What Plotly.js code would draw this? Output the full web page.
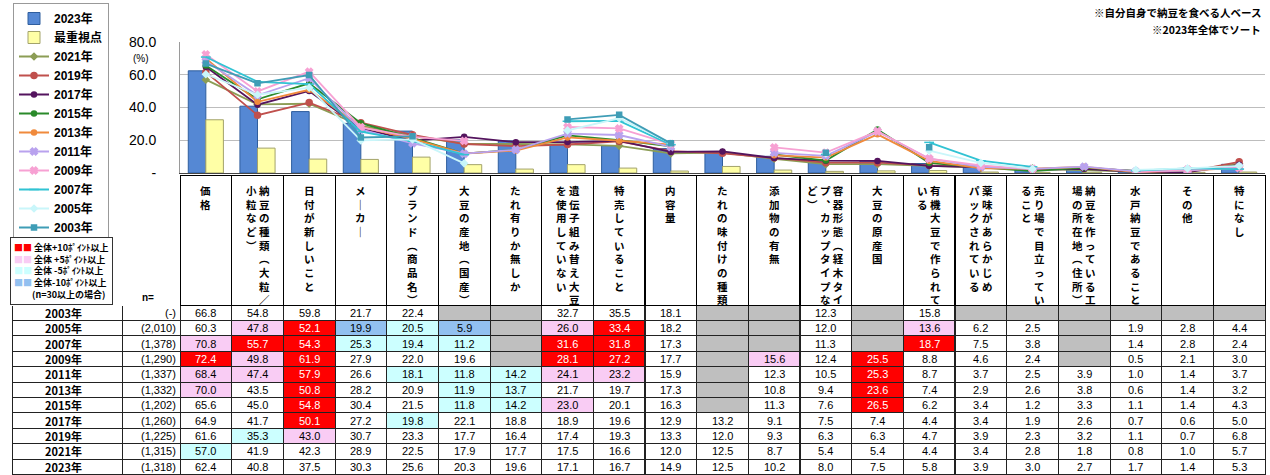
<!DOCTYPE html>
<html><head><meta charset="utf-8">
<script src="https://cdn.plot.ly/plotly-3.0.1.min.js"></script>
<style>html,body{margin:0;padding:0;background:#fff}#chart{width:1270px;height:475px}</style>
</head><body><div id="chart"></div>
<script>
// ---------- DATA ----------
const categories = [
  '価格','納豆の種類（大粒／小粒など）','日付が新しいこと','メーカー','ブランド（商品名）',
  '大豆の産地（国産）','たれ有りか無しか','遺伝子組み替え大豆を使用していない','特売していること','内容量',
  'たれの味付けの種類','添加物の有無','容器形態（経木タイプ、カップタイプなど）','大豆の原産国','有機大豆で作られている',
  '薬味があらかじめパックされている','売り場で目立っていること','納豆を作っている工場の所在地（住所）','水戸納豆であること','その他','特になし'
];
// vertical label columns (read right to left)
const labelColumns = [
  ['価格'], ['納豆の種類︵大粒／','小粒など︶'], ['日付が新しいこと'], ['メ｜カ｜'], ['ブランド︵商品名︶'],
  ['大豆の産地︵国産︶'], ['たれ有りか無しか'], ['遺伝子組み替え大豆','を使用していない'], ['特売していること'], ['内容量'],
  ['たれの味付けの種類'], ['添加物の有無'], ['容器形態︵経木タイ','プ︑カップタイプな','ど︶'], ['大豆の原産国'], ['有機大豆で作られて','いる'],
  ['薬味があらかじめ','パックされている'], ['売り場で目立ってい','ること'], ['納豆を作っている工','場の所在地︵住所︶'], ['水戸納豆であること'], ['その他'], ['特になし']
];
const years = ['2003年','2005年','2007年','2009年','2011年','2013年','2015年','2017年','2019年','2021年','2023年'];
const sampleSizes = ['(-)','(2,010)','(1,378)','(1,290)','(1,337)','(1,332)','(1,202)','(1,260)','(1,225)','(1,315)','(1,318)'];

const y2003 = [66.8,54.8,59.8,21.7,22.4,null,null,32.7,35.5,18.1,null,null,12.3,null,15.8,null,null,null,null,null,null];
const y2005 = [60.3,47.8,52.1,19.9,20.5,5.9,null,26.0,33.4,18.2,null,null,12.0,null,13.6,6.2,2.5,null,1.9,2.8,4.4];
const y2007 = [70.8,55.7,54.3,25.3,19.4,11.2,null,31.6,31.8,17.3,null,null,11.3,null,18.7,7.5,3.8,null,1.4,2.8,2.4];
const y2009 = [72.4,49.8,61.9,27.9,22.0,19.6,null,28.1,27.2,17.7,null,15.6,12.4,25.5,8.8,4.6,2.4,null,0.5,2.1,3.0];
const y2011 = [68.4,47.4,57.9,26.6,18.1,11.8,14.2,24.1,23.2,15.9,null,12.3,10.5,25.3,8.7,3.7,2.5,3.9,1.0,1.4,3.7];
const y2013 = [70.0,43.5,50.8,28.2,20.9,11.9,13.7,21.7,19.7,17.3,null,10.8,9.4,23.6,7.4,2.9,2.6,3.8,0.6,1.4,3.2];
const y2015 = [65.6,45.0,54.8,30.4,21.5,11.8,14.2,23.0,20.1,16.3,null,11.3,7.6,26.5,6.2,3.4,1.2,3.3,1.1,1.4,4.3];
const y2017 = [64.9,41.7,50.1,27.2,19.8,22.1,18.8,18.9,19.6,12.9,13.2,9.1,7.5,7.4,4.4,3.4,1.9,2.6,0.7,0.6,5.0];
const y2019 = [61.6,35.3,43.0,30.7,23.3,17.7,16.4,17.4,19.3,13.3,12.0,9.3,6.3,6.3,4.7,3.9,2.3,3.2,1.1,0.7,6.8];
const y2021 = [57.0,41.9,42.3,28.9,22.5,17.9,17.7,17.5,16.6,12.0,12.5,8.7,5.4,5.4,4.4,3.4,2.8,1.8,0.8,1.0,5.7];
const y2023 = [62.4,40.8,37.5,30.3,25.6,20.3,19.6,17.1,16.7,14.9,12.5,10.2,8.0,7.5,5.8,3.9,3.0,2.7,1.7,1.4,5.3];
// 最重視点 (2023)
const mostImportant = [32.5,15.2,8.5,8.3,9.7,5.1,2.4,5.1,3.0,1.2,4.0,1.8,1.0,1.3,1.5,0.6,0.4,0.4,0.3,0.4,0.6];

const tableRows = [y2003,y2005,y2007,y2009,y2011,y2013,y2015,y2017,y2019,y2021,y2023];

// ---------- STYLE ----------
const W = 1270, H = 475, ML = 12, MR = 5, MT = 42, MB = 0;
const PW = W - ML - MR, PH = H - MT - MB;
const px2x = p => (p - ML) / PW;
const px2y = p => 1 - (p - MT) / PH;
const JP = 'Liberation Sans, Noto Sans CJK JP';
const JPB = 'Noto Sans CJK JP';
const HEADER_TOP = 175, HEADER_H = 130, ROW_H = 15.4;

const lineSeries = [
  {name:'2021年', y:y2021, color:'#8C9D55', symbol:'diamond', size:5},
  {name:'2019年', y:y2019, color:'#C0504D', symbol:'circle', size:6},
  {name:'2017年', y:y2017, color:'#54145E', symbol:'circle', size:5},
  {name:'2015年', y:y2015, color:'#2A8A2A', symbol:'circle', size:5},
  {name:'2013年', y:y2013, color:'#F08A3C', symbol:'circle', size:5},
  {name:'2011年', y:y2011, color:'#B9A2EE', symbol:'x', size:6},
  {name:'2009年', y:y2009, color:'#F7A1D3', symbol:'x', size:6},
  {name:'2007年', y:y2007, color:'#31C3D3', symbol:'line-ew-open', size:7},
  {name:'2005年', y:y2005, color:'#C9F6FA', symbol:'diamond', size:5},
  {name:'2003年', y:y2003, color:'#3F9DB6', symbol:'square', size:5}
];

const traces = [];
traces.push({type:'bar', name:'2023年', x:categories, y:y2023,
  marker:{color:'#5588D4', line:{color:'#2F5E9E', width:1}}, hoverinfo:'skip'});
traces.push({type:'bar', name:'最重視点', x:categories, y:mostImportant,
  marker:{color:'#FFFFA6', line:{color:'#A3A36B', width:1}}, hoverinfo:'skip'});
lineSeries.forEach(s => traces.push({
  type:'scatter', mode:'lines+markers', name:s.name, x:categories, y:s.y, connectgaps:false,
  line:{color:s.color, width:1.8},
  marker:{color:s.color, symbol:s.symbol, size:s.size, line:{color:s.color, width:1.5}}, hoverinfo:'skip'
}));

// table cells (fills + borders)
function cellColor(v, base, rowIdx){
  if (v == null) return '#BFBFBF';
  if (sampleSizes[rowIdx] === '(-)') return 'white';
  const d = Math.round((v - base) * 10) / 10;
  if (d >= 10) return '#FF0000';
  if (d >= 5) return '#F9CCF4';
  if (d <= -10) return '#92C0F0';
  if (d <= -5) return '#CCFFFF';
  return 'white';
}
const dataCols = categories.map((c, j) => tableRows.map(r => r[j] == null ? '' : r[j].toFixed(1)));
const fillCols = categories.map((c, j) => tableRows.map((r, i) => cellColor(r[j], y2023[j], i)));
const fontCols = fillCols.map(col => col.map(f => f === '#FF0000' ? 'white' : 'black'));
const allCols = [years, sampleSizes].concat(dataCols);
const whiteCol = years.map(() => 'white');
const catW = (PW - 168) / categories.length;

traces.push({
  type:'table',
  domain:{x:[0,1], y:[0, px2y(HEADER_TOP)]},
  columnwidth:[110, 58].concat(categories.map(() => catW)),
  header:{
    values: allCols.map(() => ['']), height:HEADER_H,
    fill:{color:'white'},
    line:{color: ['white','white'].concat(categories.map(() => 'black')), width:1}
  },
  cells:{
    values: allCols.map(col => col.map(() => '')), height:ROW_H,
    fill:{color: [whiteCol, whiteCol].concat(fillCols)},
    line:{color:'#222', width:1}
  }
});

// vertical labels
function vert(cols){
  const chars = cols.map(s => Array.from(s));
  const n = Math.max(...chars.map(c => c.length));
  const lines = [];
  for (let i = 0; i < n; i++) {
    const row = chars.slice().reverse().map(c => c[i] || '\u3000');
    lines.push(row.join(' '));
  }
  return lines.join('<br>');
}
const annotations = categories.map((c, j) => ({
  x:c, xref:'x', y:px2y(181), yref:'paper', yanchor:'top', xanchor:'center',
  text:vert(labelColumns[j]), showarrow:false,
  font:{size:10.5, family:JPB, color:'#000', weight:700}
}));
// table texts
const rowY = i => px2y(HEADER_TOP + HEADER_H + ROW_H * i + ROW_H / 2);
years.forEach((yr, i) => {
  annotations.push({x:px2x(63), xref:'paper', y:rowY(i), yref:'paper', xanchor:'center', yanchor:'middle',
    text:yr, showarrow:false, font:{size:11, family:JPB, weight:700, color:'#000'}});
  annotations.push({x:px2x(178), xref:'paper', y:rowY(i), yref:'paper', xanchor:'right', yanchor:'middle',
    text:sampleSizes[i], showarrow:false, font:{size:11, family:JP, color:'#000'}});
});
categories.forEach((c, j) => {
  dataCols[j].forEach((t, i) => {
    if (!t) return;
    annotations.push({x:c, xref:'x', y:rowY(i), yref:'paper', xanchor:'center', yanchor:'middle',
      text:t, showarrow:false, font:{size:11, family:JP, color:fontCols[j][i]}});
  });
});
annotations.push({x:px2x(1263), y:px2y(12), xref:'paper', yref:'paper', xanchor:'right', yanchor:'middle',
  text:'※自分自身で納豆を食べる人ベース', showarrow:false, font:{size:10.5, family:JPB, weight:700, color:'#000'}});
annotations.push({x:px2x(1263), y:px2y(30), xref:'paper', yref:'paper', xanchor:'right', yanchor:'middle',
  text:'※2023年全体でソート', showarrow:false, font:{size:10.5, family:JPB, weight:700, color:'#000'}});
annotations.push({x:px2x(141), y:px2y(58), xref:'paper', yref:'paper', xanchor:'center', yanchor:'middle',
  text:'(%)', showarrow:false, font:{size:10, family:JP, color:'#000'}});
annotations.push({x:px2x(148), y:px2y(297), xref:'paper', yref:'paper', xanchor:'center', yanchor:'middle',
  text:'n=', showarrow:false, font:{size:10, family:JP, weight:700, color:'#000'}});
annotations.push({x:px2x(10), y:px2y(237), xref:'paper', yref:'paper', xanchor:'left', yanchor:'top',
  align:'left', showarrow:false, bordercolor:'#333', borderwidth:1, bgcolor:'white', borderpad:3,
  text:'<span style="color:#FF0000">■■</span> 全体+10ﾎﾟｲﾝﾄ以上<br>' +
       '<span style="color:#F9CCF4">■■</span> 全体 +5ﾎﾟｲﾝﾄ以上<br>' +
       '<span style="color:#CCFFFF">■■</span> 全体 -5ﾎﾟｲﾝﾄ以上<br>' +
       '<span style="color:#92C0F0">■■</span> 全体-10ﾎﾟｲﾝﾄ以上<br>' +
       '\u3000\u3000(n=30以上の場合)',
  font:{size:9, family:JPB, weight:700, color:'#000'}});

const layout = {
  width:W, height:H,
  margin:{l:ML, r:MR, t:MT, b:MB, pad:0},
  paper_bgcolor:'white', plot_bgcolor:'white',
  barmode:'group', bargap:0.32, bargroupgap:0,
  showlegend:true,
  legend:{x:px2x(13), y:px2y(3), xanchor:'left', yanchor:'top', bgcolor:'white',
    bordercolor:'#999', borderwidth:1, traceorder:'normal',
    font:{size:12, family:JP, weight:700, color:'#000'}, tracegroupgap:0},
  xaxis:{type:'category', domain:[px2x(180), 1], range:[-0.5, categories.length - 0.5],
    showticklabels:false, ticks:'', showgrid:false, zeroline:false,
    showline:true, linecolor:'#444', linewidth:1, fixedrange:true},
  yaxis:{domain:[px2y(173), 1], range:[0, 80], tickmode:'array',
    tickvals:[0,20,40,60,80], ticktext:['-','20.0','40.0','60.0','80.0'],
    ticks:'', ticklabelstandoff:20, showgrid:true, gridcolor:'#BDBDBD', gridwidth:1,
    zeroline:false, showline:true, linecolor:'#9A9A9A', linewidth:1,
    tickfont:{size:14, family:JP, color:'#000'}, fixedrange:true},
  annotations:annotations
};

Plotly.newPlot('chart', traces, layout, {displayModeBar:false, staticPlot:true});
</script>
</body></html>
